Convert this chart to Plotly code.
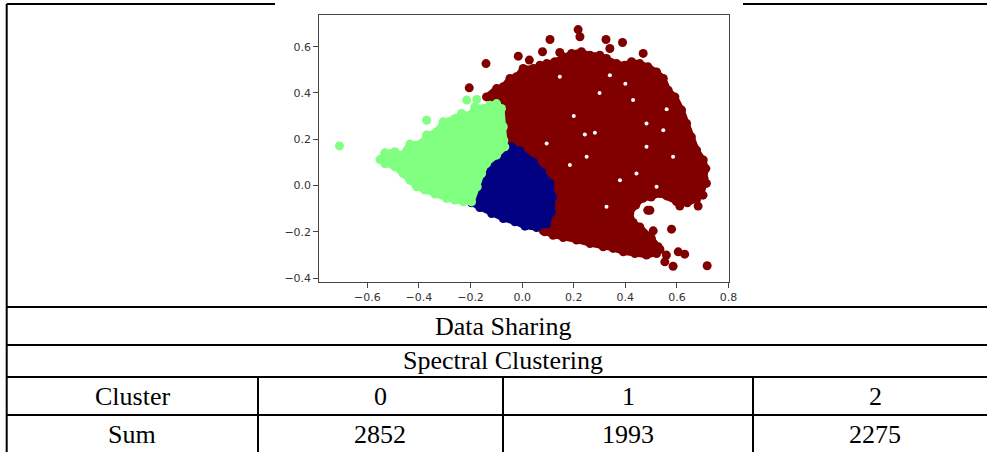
import plotly.graph_objects as go

W, H = 987, 452

# ---------------- scatter data (data units) ----------------
# cluster painted dark red: traced outline of the dense mass
red_edge_x = [-0.138, -0.099, -0.073, -0.047, -0.022, 0.004, 0.043, 0.069, 0.095, 0.127,
              0.159, 0.192, 0.230, 0.263, 0.301, 0.327, 0.366, 0.398, 0.424, 0.456,
              0.488, 0.521, 0.547, 0.566, 0.592, 0.618, 0.637, 0.656, 0.676, 0.702,
              0.712, 0.705, 0.695, 0.676, 0.640, 0.598, 0.560, 0.534, 0.500, 0.468,
              0.440, 0.417, 0.430, 0.456, 0.501, 0.527, 0.521, 0.482, 0.437, 0.392,
              0.353, 0.314, 0.263, 0.211, 0.159, 0.120, 0.088, 0.101, 0.120, 0.127,
              0.118, 0.088, 0.049, -0.009, -0.047, -0.067, -0.073, -0.076, -0.086, -0.112]
red_edge_y = [0.383, 0.419, 0.427, 0.463, 0.470, 0.506, 0.506, 0.520, 0.527, 0.535,
              0.556, 0.571, 0.578, 0.563, 0.563, 0.549, 0.527, 0.520, 0.535, 0.527,
              0.513, 0.491, 0.463, 0.412, 0.383, 0.326, 0.268, 0.210, 0.153, 0.110,
              0.073, 0.030, -0.013, -0.060, -0.075, -0.070, -0.045, -0.035, -0.050, -0.055,
              -0.085, -0.120, -0.160, -0.179, -0.229, -0.265, -0.294, -0.301, -0.294, -0.287,
              -0.272, -0.265, -0.251, -0.236, -0.225, -0.215, -0.200, -0.164, -0.107, -0.049,
              0.001, 0.052, 0.102, 0.153, 0.170, 0.167, 0.225, 0.297, 0.340, 0.369]
# isolated dark red points
red_out_x = [-0.140, -0.205, -0.015, 0.028, 0.079, 0.108, 0.146, 0.217, 0.224, 0.325,
             0.340, 0.389, 0.469, 0.701, 0.682, 0.611, 0.495, 0.579, 0.508, 0.534,
             0.559, 0.585, 0.605, 0.630, 0.717, 0.553, 0.082, 0.487, 0.714]
red_out_y = [0.527, 0.422, 0.559, 0.542, 0.578, 0.631, 0.575, 0.674, 0.643, 0.631,
             0.592, 0.618, 0.571, -0.042, -0.089, -0.089, -0.107, -0.189, -0.196, -0.277,
             -0.301, -0.349, -0.287, -0.297, -0.347, -0.330, -0.196, -0.107, 0.009]
# small uncovered gaps visible inside the dark red mass
gap_x = [0.243, 0.282, 0.185, 0.250, 0.146, 0.340, 0.430, 0.482, 0.547, 0.482,
         0.585, 0.379, 0.443, 0.327, 0.521, 0.095, 0.300, 0.400, 0.200, 0.560]
gap_y = [0.220, 0.228, 0.088, 0.124, 0.470, 0.477, 0.369, 0.268, 0.239, 0.167,
         0.124, 0.023, 0.052, -0.092, -0.006, 0.182, 0.400, 0.440, 0.300, 0.330]

# cluster painted light green
green_edge_x = [-0.551, -0.532, -0.493, -0.467, -0.435, -0.390, -0.370, -0.331, -0.306, -0.260,
                -0.235, -0.202, -0.183, -0.151, -0.125, -0.099, -0.080, -0.073, -0.071, -0.067,
                -0.099, -0.138, -0.157, -0.174, -0.196, -0.228, -0.260, -0.293, -0.338, -0.377,
                -0.409, -0.435, -0.461, -0.493, -0.532]
green_edge_y = [0.112, 0.141, 0.146, 0.131, 0.179, 0.182, 0.218, 0.232, 0.275, 0.290,
                0.311, 0.304, 0.340, 0.333, 0.347, 0.354, 0.333, 0.254, 0.196, 0.167,
                0.131, 0.095, 0.052, -0.006, -0.071, -0.071, -0.063, -0.056, -0.037, -0.020,
                -0.006, 0.023, 0.052, 0.081, 0.095]
green_out_x = [-0.708, -0.370, -0.215, -0.176, -0.202]
green_out_y = [0.171, 0.282, 0.369, 0.372, 0.304]

# cluster painted navy
navy_edge_x = [-0.067, -0.041, -0.009, 0.043, 0.075, 0.108, 0.118, 0.114, 0.095, 0.056,
               0.011, -0.028, -0.073, -0.118, -0.164, -0.196, -0.187, -0.170, -0.153, -0.125,
               -0.093]
navy_edge_y = [0.160, 0.167, 0.150, 0.102, 0.059, 0.009, -0.049, -0.114, -0.167, -0.182,
               -0.176, -0.157, -0.143, -0.121, -0.095, -0.075, -0.035, 0.001, 0.059, 0.095,
               0.135]

x_ticks = [-0.6, -0.4, -0.2, 0.0, 0.2, 0.4, 0.6, 0.8]
x_tick_labels = ["\u22120.6", "\u22120.4", "\u22120.2", "0.0", "0.2", "0.4", "0.6", "0.8"]
y_ticks = [-0.4, -0.2, 0.0, 0.2, 0.4, 0.6]
y_tick_labels = ["\u22120.4", "\u22120.2", "0.0", "0.2", "0.4", "0.6"]

# ---------------- table data ----------------
table_title = "Data Sharing"
method_name = "Spectral Clustering"
row_labels = ["Cluster", "Sum"]
cluster_ids = ["0", "1", "2"]
cluster_sums = ["2852", "1993", "2275"]

RED = "#800000"
GREEN = "#80ff80"
NAVY = "#000080"

fig = go.Figure()


def add_cluster(ex, ey, ox, oy, color):
    fig.add_trace(go.Scatter(x=ex + ex[:1], y=ey + ey[:1], mode="lines", fill="toself",
                             fillcolor=color, line=dict(color=color, width=6),
                             hoverinfo="skip", showlegend=False))
    fig.add_trace(go.Scatter(x=ex + ox, y=ey + oy, mode="markers",
                             marker=dict(color=color, size=9, line=dict(width=0)),
                             showlegend=False))


add_cluster(red_edge_x, red_edge_y, red_out_x, red_out_y, RED)
fig.add_trace(go.Scatter(x=gap_x, y=gap_y, mode="markers", hoverinfo="skip",
                         marker=dict(color="white", size=4, line=dict(width=0)),
                         showlegend=False))
add_cluster(navy_edge_x, navy_edge_y, [], [], NAVY)
add_cluster(green_edge_x, green_edge_y, green_out_x, green_out_y, GREEN)


def px(x):
    return x / W


def py(y):
    return 1 - y / H


tick_font = dict(family="DejaVu Sans", size=11, color="#333333")
fig.update_xaxes(domain=[px(319.3), px(728.7)], range=[-0.786, 0.8005], automargin=False,
                 tickvals=x_ticks, ticktext=x_tick_labels, tickfont=tick_font,
                 showgrid=False, zeroline=False, showline=True, mirror=True,
                 linecolor="#444444", linewidth=1, ticks="outside", ticklen=5,
                 tickcolor="#444444")
fig.update_yaxes(domain=[py(281.7), py(15)], range=[-0.416, 0.737], automargin=False,
                 tickvals=y_ticks, ticktext=y_tick_labels, tickfont=tick_font,
                 showgrid=False, zeroline=False, showline=True, mirror=True,
                 linecolor="#444444", linewidth=1, ticks="outside", ticklen=5,
                 tickcolor="#444444")

# ---------------- table lines ----------------
LW = 2
LEFT, RIGHT = 6.7, 987
lines = [
    (LEFT, 4, 275, 4), (743, 4, RIGHT, 4),
    (LEFT, 4, LEFT, H),
    (LEFT, 307, RIGHT, 307), (LEFT, 345, RIGHT, 345),
    (LEFT, 377, RIGHT, 377), (LEFT, 415, RIGHT, 415),
    (258, 377, 258, H), (503, 377, 503, H), (753, 377, 753, H),
]
shapes = []
for x0, y0, x1, y1 in lines:
    shapes.append(dict(type="line", xref="paper", yref="paper",
                       x0=px(x0), y0=py(y0), x1=px(x1), y1=py(y1),
                       line=dict(color="black", width=LW)))

cell_font = dict(family="Liberation Serif", size=26, color="black")
annotations = []


def add_text(text, x, y):
    annotations.append(dict(text=text, x=px(x), y=py(y), xref="paper", yref="paper",
                            xanchor="center", yanchor="middle", showarrow=False,
                            font=cell_font))


add_text(table_title, 502.5, 326)
add_text(method_name, 502.5, 360)
col_centers = [380, 628, 875]
add_text(row_labels[0], 132, 396)
add_text(row_labels[1], 132, 434)
for cx, cid, cs in zip(col_centers, cluster_ids, cluster_sums):
    add_text(cid, cx, 396)
    add_text(cs, cx, 434)

fig.update_layout(width=W, height=H, margin=dict(l=0, r=0, t=0, b=0, autoexpand=False),
                  paper_bgcolor="white", plot_bgcolor="white",
                  shapes=shapes, annotations=annotations, showlegend=False)

fig.write_html("out.html", config={"displayModeBar": False},
               post_script="document.body.style.margin='0px';"
                           "document.body.style.overflow='hidden';")
